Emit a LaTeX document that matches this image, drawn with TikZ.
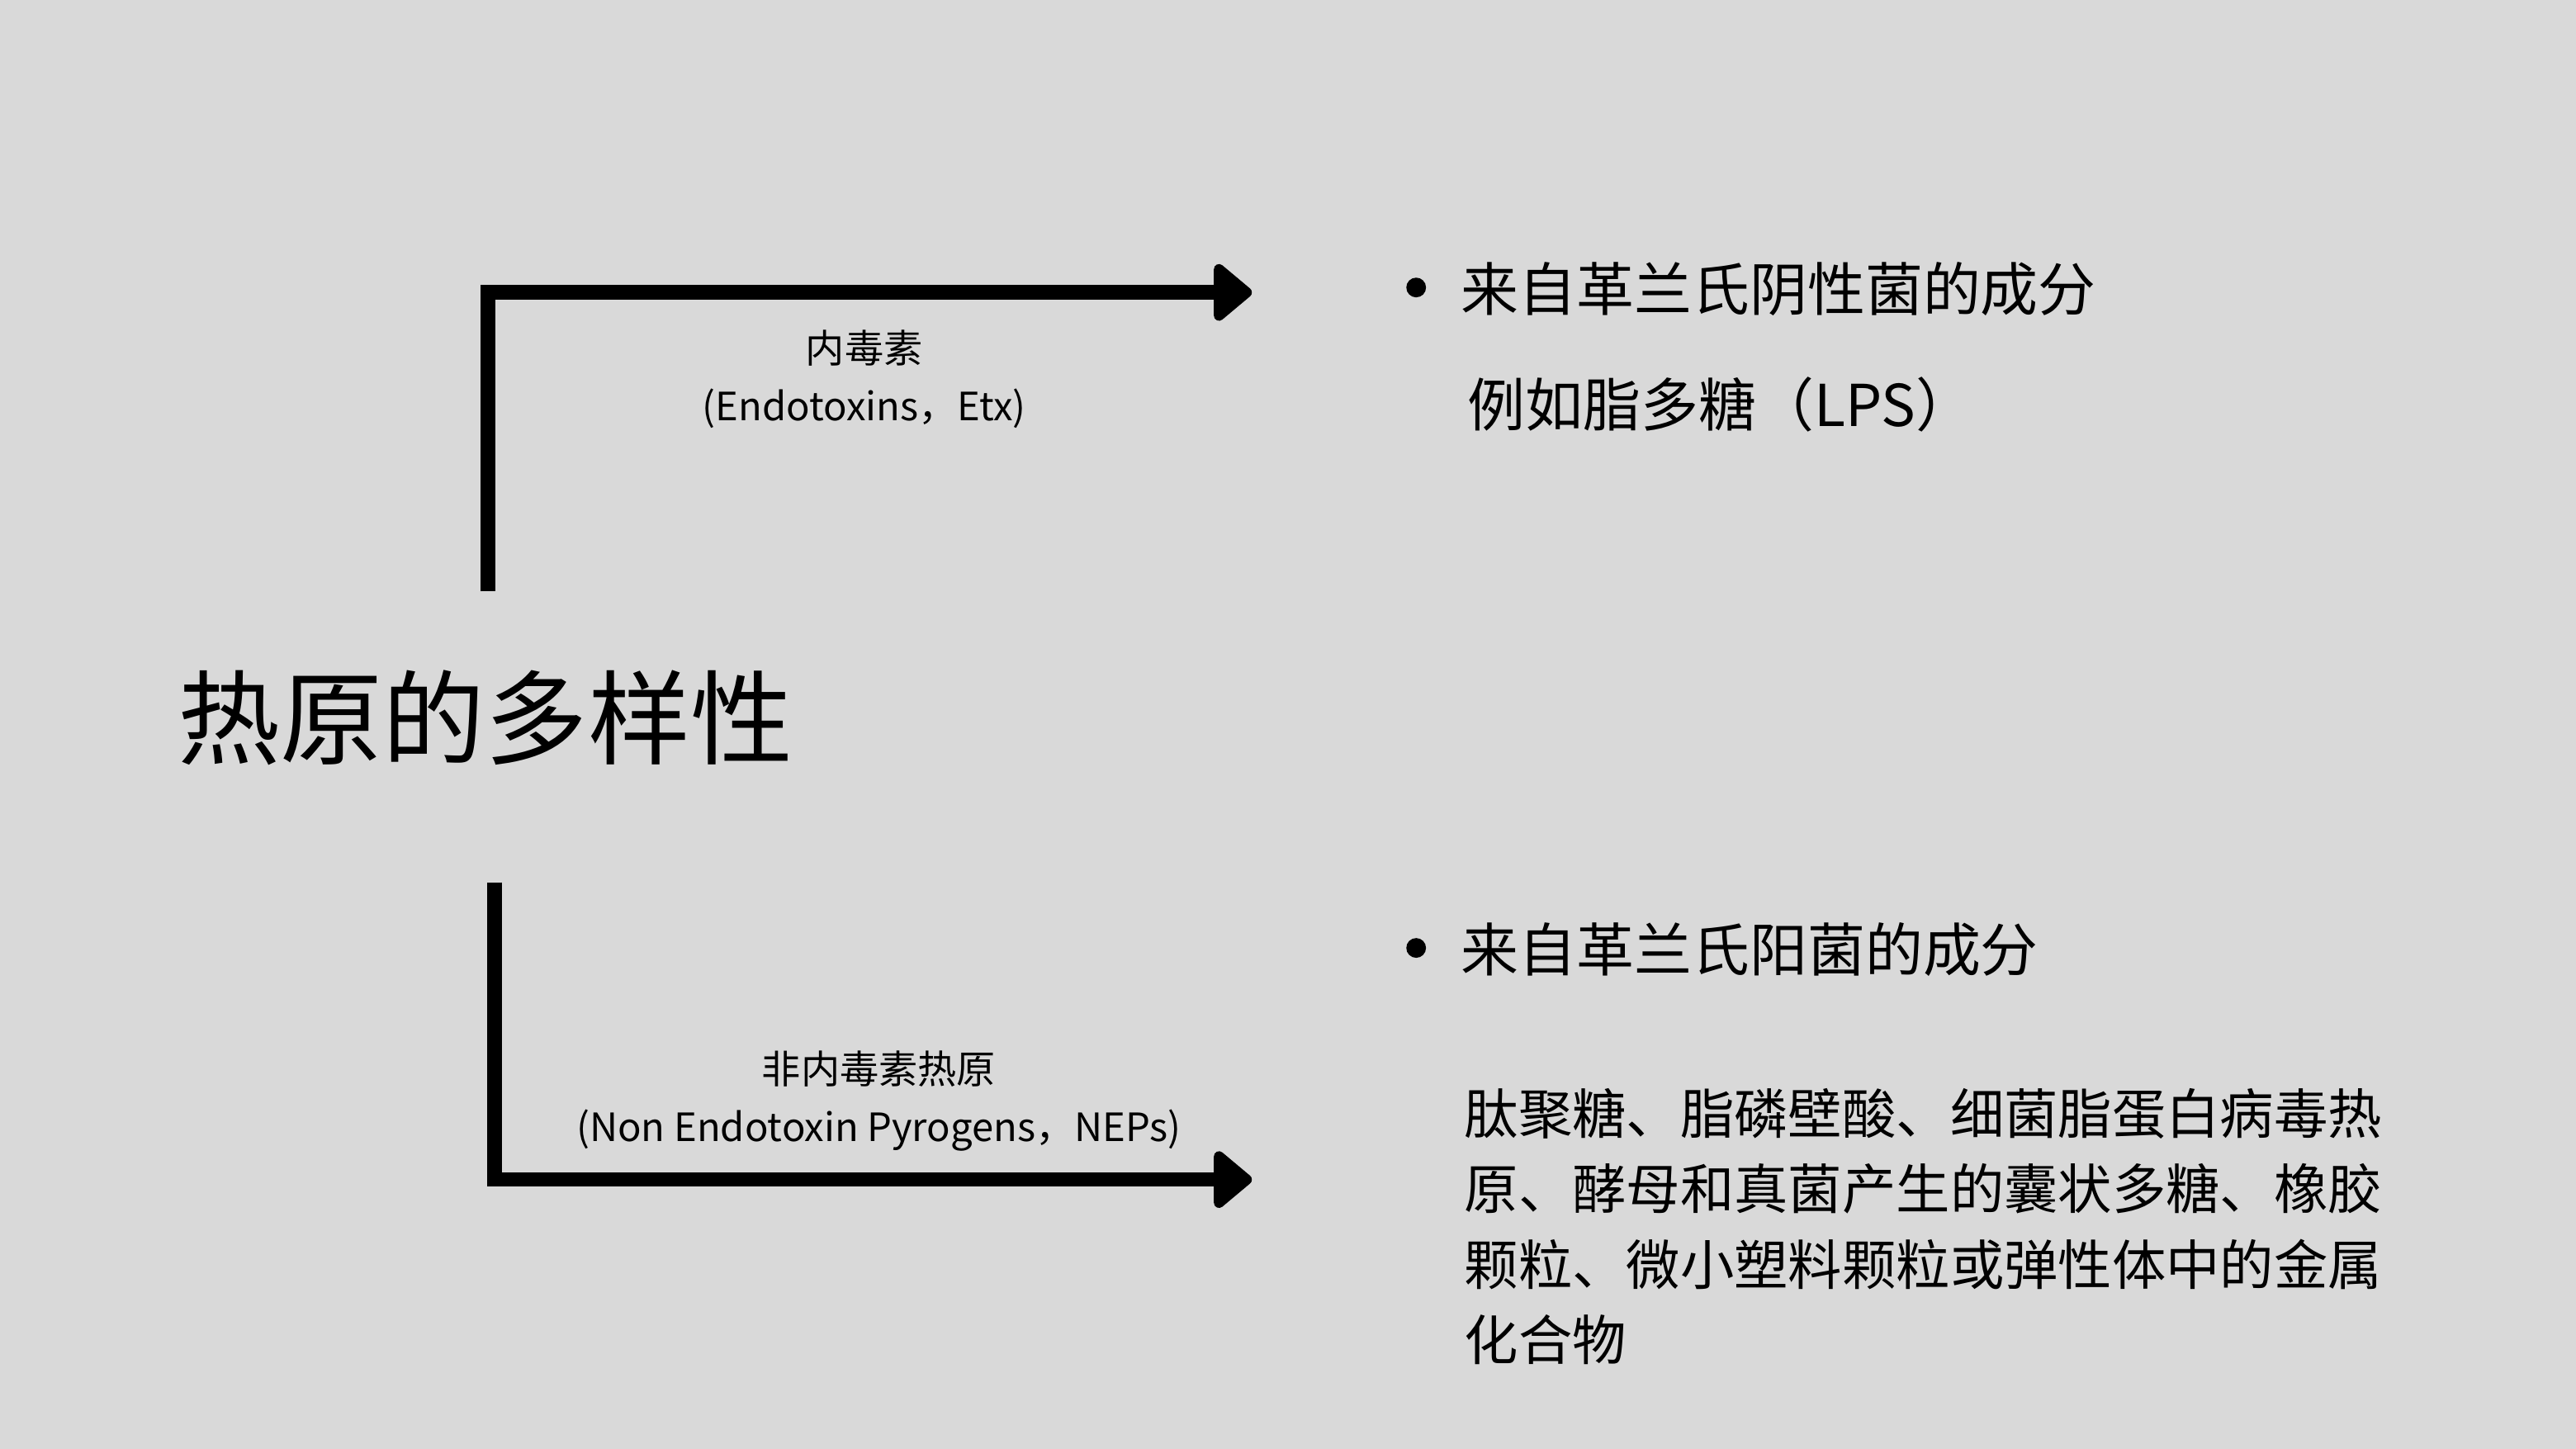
\documentclass[tikz,border=0pt]{standalone}
\usepackage{fontspec}
\setmainfont{Noto Sans CJK SC}
\usetikzlibrary{arrows.meta}
\begin{document}
\begin{tikzpicture}[x=0.02cm,y=-0.02cm,
  arr/.style={line width=5pt,-{Triangle[round,length=0.5cm,width=0.8cm]}},
  lbl/.style={font=\fontsize{13.5pt}{20pt}\selectfont,align=center,inner sep=0pt},
  txt/.style={font=\fontsize{20pt}{24pt}\selectfont,anchor=west,inner sep=0pt},
  dot/.style={circle,fill=black,inner sep=0pt,minimum size=0.24cm}]
\fill[fill={rgb,255:red,217;green,217;blue,217}] (0,0) rectangle (1568,882);
\useasboundingbox (0,0) rectangle (1568,882);
\node[anchor=west,inner sep=0pt,font=\fontsize{35.5pt}{40pt}\selectfont] (title) at (108,437) {热原的多样性};
\coordinate (s1) at (297,360);
\coordinate (e1) at (762,178);
\coordinate (s2) at (301,537);
\coordinate (e2) at (762,718);
\draw[arr] (s1) |- (e1);
\draw[arr] (s2) |- (e2);
\node[lbl] (l1) at (526,231) {内毒素\\(Endotoxins，Etx)};
\node[lbl] (l2) at (535,670) {非内毒素热原\\(Non Endotoxin Pyrogens，NEPs)};
\node[dot] (b1) at (862,175) {};
\node[txt] (t1) at (889,176) {来自革兰氏阴性菌的成分};
\node[txt] (t1b) at (893,246) {例如脂多糖（LPS）};
\node[dot] (b2) at (862,577) {};
\node[txt] (t2) at (889,578) {来自革兰氏阳菌的成分};
\node[anchor=north west,inner sep=0pt,align=left,font=\fontsize{18.7pt}{0.92cm}\selectfont] (p2) at (891,662)
 {肽聚糖、脂磷壁酸、细菌脂蛋白病毒热\\原、酵母和真菌产生的囊状多糖、橡胶\\颗粒、微小塑料颗粒或弹性体中的金属\\化合物};
\end{tikzpicture}
\end{document}
